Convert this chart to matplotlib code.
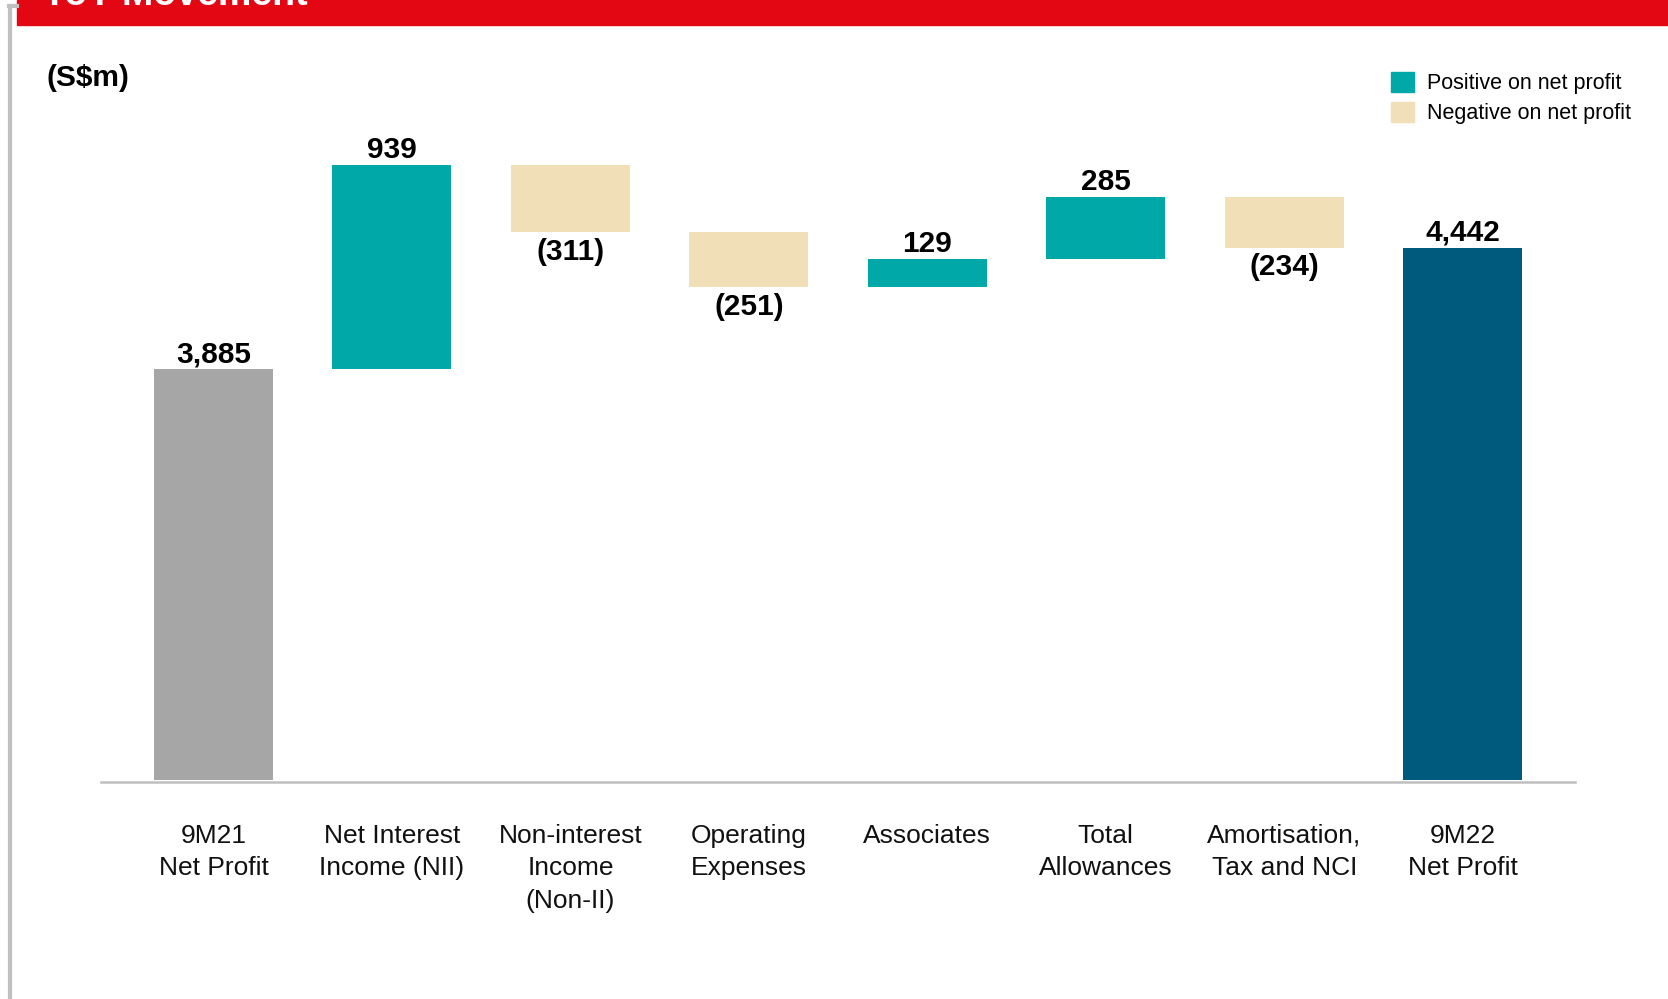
import matplotlib.pyplot as plt
from matplotlib.patches import Patch, Rectangle
from matplotlib.lines import Line2D

plt.rcParams['font.family'] = ['Liberation Sans', 'DejaVu Sans']

# waterfall data (S$m)
categories = ["9M21\nNet Profit", "Net Interest\nIncome (NII)", "Non-interest\nIncome\n(Non-II)",
              "Operating\nExpenses", "Associates", "Total\nAllowances",
              "Amortisation,\nTax and NCI", "9M22\nNet Profit"]
values = [3885, 939, -311, -251, 129, 285, -234, 4442]
value_labels = ["3,885", "939", "(311)", "(251)", "129", "285", "(234)", "4,442"]
is_total = [True, False, False, False, False, False, False, True]

TEAL = '#00A9A8'
BEIGE = '#F1DFB8'
GREY = '#A6A6A6'
NAVY = '#005A7D'
RED = '#E30613'

floor = 2000  # axis is broken, bars start here

fig = plt.figure(figsize=(16.68, 9.99), dpi=100)
ax = fig.add_axes([0.0606, 0.2172, 0.8837, 0.6328])

running = 0
for i, v in enumerate(values):
    if is_total[i]:
        color = GREY if i == 0 else NAVY
        ax.bar(i, v - floor, bottom=floor, width=0.667, color=color)
        ax.text(i, v + 5, value_labels[i], ha='center', va='bottom',
                fontsize=21.5, fontweight='bold')
        running = v
    else:
        lo, hi = (running, running + v) if v > 0 else (running + v, running)
        ax.bar(i, hi - lo, bottom=lo, width=0.667, color=TEAL if v > 0 else BEIGE)
        if v > 0:
            ax.text(i, hi + 5, value_labels[i], ha='center', va='bottom',
                    fontsize=21.5, fontweight='bold')
        else:
            ax.text(i, lo - 25, value_labels[i], ha='center', va='top',
                    fontsize=21.5, fontweight='bold')
        running += v

ax.set_xlim(-0.63, 7.63)
ax.set_ylim(1990, 4892)
ax.set_xticks(range(len(categories)))
ax.set_xticklabels(categories, fontsize=19, color='#111111', linespacing=1.45)
ax.tick_params(axis='x', length=0, pad=30)
ax.set_yticks([])
for s in ['top', 'left', 'right']:
    ax.spines[s].set_visible(False)
ax.spines['bottom'].set_color('#BFBFBF')
ax.spines['bottom'].set_linewidth(1.8)

# slide decoration: red header band and grey frame
fig.patches.append(Rectangle((17 / 1668, 1 - 25 / 999), 1, 25 / 999,
                             transform=fig.transFigure, color=RED, zorder=0))
fig.lines.append(Line2D([10 / 1668, 10 / 1668], [0, 1 - 6 / 999],
                        transform=fig.transFigure, color='#C0C0C0', lw=3))
fig.lines.append(Line2D([9 / 1668, 17 / 1668], [1 - 6 / 999, 1 - 6 / 999],
                        transform=fig.transFigure, color='#C0C0C0', lw=3))
fig.text(42 / 1668, 1 - 5 / 999, "YoY Movement", color='white', fontsize=27,
         fontweight='bold', ha='left', va='baseline')

fig.text(47 / 1668, 1 - 78 / 999, "(S$m)", fontsize=21.5, fontweight='bold',
         ha='left', va='center')

handles = [Patch(color=TEAL), Patch(color=BEIGE)]
fig.legend(handles, ["Positive on net profit", "Negative on net profit"],
           loc='upper left', bbox_to_anchor=(1391 / 1668, 1 - 72 / 999),
           frameon=False, fontsize=15.5, handlelength=1.05, handleheight=1.05,
           handletextpad=0.6, labelspacing=0.35, borderpad=0, borderaxespad=0)

fig.savefig('out.png', dpi=100)
